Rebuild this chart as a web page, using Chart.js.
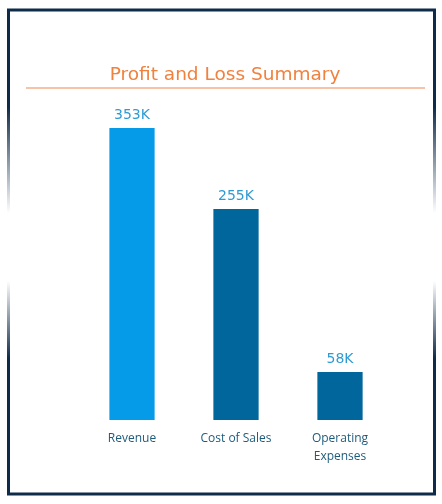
<!DOCTYPE html>
<html>
<head>
<meta charset="utf-8">
<script src="https://cdn.jsdelivr.net/npm/chart.js@4"></script>
<style>
  html, body { margin: 0; padding: 0; background: #ffffff; }
  #wrap { width: 442px; height: 504px; }
</style>
</head>
<body>
<div id="wrap"><canvas id="plChart" width="442" height="504"></canvas></div>
<script>
const categories = [['Revenue'], ['Cost of Sales'], ['Operating', 'Expenses']];
const amountsK = [353, 255, 58];
const barColors = ['#069be8', '#00669c', '#00669c'];
const chartTitle = 'Profit and Loss Summary';

// frame with faded sides + title with underline
const framePlugin = {
  id: 'frame',
  beforeDraw(chart) {
    const c = chart.ctx;
    const x0 = 8.5, y0 = 10, x1 = 434.5, y1 = 494;
    const dark = '#0f2b4a';
    c.save();
    c.lineWidth = 3;
    c.strokeStyle = dark;
    c.beginPath();
    c.moveTo(x0 - 1.5, y0); c.lineTo(x1 + 1.5, y0);
    c.moveTo(x0 - 1.5, y1); c.lineTo(x1 + 1.5, y1);
    c.stroke();
    const g = c.createLinearGradient(0, y0, 0, y1);
    g.addColorStop(0, dark);
    g.addColorStop(0.2, dark);
    g.addColorStop(0.42, 'rgba(255,255,255,1)');
    g.addColorStop(0.56, 'rgba(255,255,255,1)');
    g.addColorStop(0.72, dark);
    g.addColorStop(1, dark);
    c.strokeStyle = g;
    c.beginPath();
    c.moveTo(x0, y0); c.lineTo(x0, y1);
    c.moveTo(x1, y0); c.lineTo(x1, y1);
    c.stroke();

    c.fillStyle = '#f0813e';
    c.font = '18.5px "DejaVu Sans"';
    c.textAlign = 'center';
    c.textBaseline = 'middle';
    c.fillText(chartTitle, 225, 75);
    c.strokeStyle = '#f4ae88';
    c.lineWidth = 1.5;
    c.beginPath();
    c.moveTo(26, 88); c.lineTo(425, 88);
    c.stroke();
    c.restore();
  }
};

const valueLabels = {
  id: 'valueLabels',
  afterDatasetsDraw(chart) {
    const c = chart.ctx;
    const meta = chart.getDatasetMeta(0);
    c.save();
    c.fillStyle = '#2f9bd3';
    c.font = '14px "DejaVu Sans"';
    c.textAlign = 'center';
    c.textBaseline = 'middle';
    meta.data.forEach((bar, i) => {
      c.fillText(amountsK[i] + 'K', bar.x, bar.y - 13);
    });
    c.restore();
  }
};

new Chart(document.getElementById('plChart'), {
  type: 'bar',
  data: {
    labels: categories,
    datasets: [{
      data: amountsK,
      backgroundColor: barColors,
      borderWidth: 0,
      categoryPercentage: 0.87,
      barPercentage: 0.5
    }]
  },
  options: {
    responsive: false,
    animation: false,
    layout: { padding: { left: 80, right: 50, top: 89, bottom: 36 } },
    plugins: {
      legend: { display: false },
      title: { display: false },
      tooltip: { enabled: false }
    },
    scales: {
      x: {
        grid: { display: false },
        border: { display: false },
        ticks: {
          color: '#1d5b7c',
          font: { family: '"Open Sans"', size: 12, lineHeight: 1.5 },
          padding: 2,
          maxRotation: 0
        }
      },
      y: {
        display: false,
        min: 0,
        max: 400
      }
    }
  },
  plugins: [framePlugin, valueLabels]
});
</script>
</body>
</html>
